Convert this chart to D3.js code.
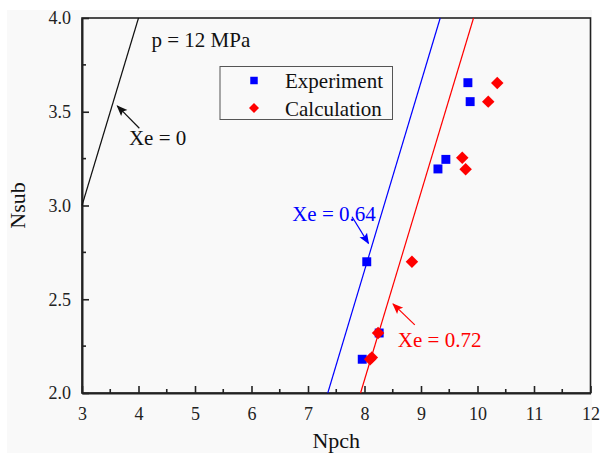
<!DOCTYPE html>
<html>
<head>
<meta charset="utf-8">
<script src="https://cdn.jsdelivr.net/npm/d3@7"></script>
<style>
body { margin: 0; background: #fff; }
svg text { font-family: "Liberation Serif", "Times New Roman", serif; }
</style>
</head>
<body>
<svg id="chart" width="600" height="455"></svg>
<script>
var width = 600;
var height = 455;

// measured points
var expX = [9.83, 9.87, 9.44, 9.30, 8.04, 8.26, 7.96];
var expY = [3.655, 3.554, 3.246, 3.195, 2.70, 2.32, 2.18];
var calcX = [10.35, 10.19, 9.73, 9.79, 8.84, 8.24, 8.10, 8.13];
var calcY = [3.653, 3.554, 3.255, 3.193, 2.70, 2.32, 2.18, 2.19];

// Xe iso-lines (start, end)
var lineXe0 = [[3, 3], [4, 4]];
var lineXe064 = [[7.35, 2], [9.34, 4]];
var lineXe072 = [[7.93, 2], [9.93, 4]];

var xTicks = [3, 4, 5, 6, 7, 8, 9, 10, 11, 12];
var yTicks = [2.0, 2.5, 3.0, 3.5, 4.0];

var svg = d3.select('#chart');

svg.append('rect')
    .attr('x', 7).attr('y', 10)
    .attr('width', 585).attr('height', 443)
    .attr('fill', '#f9f9f9');

var x = d3.scaleLinear().domain([3, 12]).range([82, 590.5]);
var y = d3.scaleLinear().domain([2, 4]).range([393, 18]);

// frame
svg.append('rect')
    .attr('x', x(3)).attr('y', y(4))
    .attr('width', x(12) - x(3)).attr('height', y(2) - y(4))
    .attr('fill', 'none')
    .attr('stroke', '#222')
    .attr('stroke-width', 1.6);

// axes with inward ticks
var xAxis = d3.axisBottom(x).tickValues(xTicks).tickFormat(d3.format('d'))
    .tickSizeInner(-7).tickSizeOuter(0).tickPadding(14);
var gx = svg.append('g').attr('transform', 'translate(0,' + y(2) + ')').call(xAxis);
var yAxis = d3.axisLeft(y).tickValues(yTicks).tickFormat(d3.format('.1f'))
    .tickSizeInner(-7).tickSizeOuter(0).tickPadding(11);
var gy = svg.append('g').attr('transform', 'translate(' + x(3) + ',0)').call(yAxis);

[gx, gy].forEach(function(g) {
    g.select('.domain').attr('stroke', '#222').attr('stroke-width', 2);
    g.selectAll('.tick line').attr('stroke', '#222').attr('stroke-width', 1.6);
    g.selectAll('.tick text').attr('fill', '#222')
        .style('font-family', '"Liberation Serif", serif').style('font-size', '18px');
});

// minor ticks
var xMinor = d3.range(3.5, 12, 1);
var yMinor = [2.25, 2.75, 3.25, 3.75];
svg.append('g').selectAll('line').data(xMinor).enter().append('line')
    .attr('x1', d => x(d)).attr('x2', d => x(d))
    .attr('y1', y(2)).attr('y2', y(2) - 4)
    .attr('stroke', '#222').attr('stroke-width', 1.6);
svg.append('g').selectAll('line').data(yMinor).enter().append('line')
    .attr('x1', x(3)).attr('x2', x(3) + 4)
    .attr('y1', d => y(d)).attr('y2', d => y(d))
    .attr('stroke', '#222').attr('stroke-width', 1.6);

// axis titles
svg.append('text')
    .attr('x', (x(3) + x(12)) / 2).attr('y', 448)
    .attr('text-anchor', 'middle')
    .style('font-size', '22px').attr('fill', '#111')
    .text('Npch');
svg.append('text')
    .attr('transform', 'translate(25,' + ((y(2) + y(4)) / 2) + ') rotate(-90)')
    .attr('text-anchor', 'middle')
    .style('font-size', '22px').attr('fill', '#111')
    .text('Nsub');

// lines
var line = d3.line().x(d => x(d[0])).y(d => y(d[1]));
svg.append('path').datum(lineXe0).attr('d', line)
    .attr('stroke', '#111').attr('stroke-width', 1.2).attr('fill', 'none');
svg.append('path').datum(lineXe064).attr('d', line)
    .attr('stroke', '#0000ff').attr('stroke-width', 1.2).attr('fill', 'none');
svg.append('path').datum(lineXe072).attr('d', line)
    .attr('stroke', '#ff0000').attr('stroke-width', 1.2).attr('fill', 'none');

// markers
var expData = expX.map((v, i) => [v, expY[i]]);
var calcData = calcX.map((v, i) => [v, calcY[i]]);
var sq = d3.symbol().type(d3.symbolSquare).size(80);
var dia = d3.symbol().type(d3.symbolSquare).size(78);

svg.append('g').selectAll('path').data(expData).enter().append('path')
    .attr('d', sq)
    .attr('transform', d => 'translate(' + x(d[0]) + ',' + y(d[1]) + ')')
    .attr('fill', '#0000ff');
svg.append('g').selectAll('path').data(calcData).enter().append('path')
    .attr('d', dia)
    .attr('transform', d => 'translate(' + x(d[0]) + ',' + y(d[1]) + ') rotate(45)')
    .attr('fill', '#ff0000');

// arrow markers
var defs = svg.append('defs');
[['k', '#111'], ['b', '#0000ff'], ['r', '#ff0000']].forEach(function(m) {
    defs.append('marker')
        .attr('id', 'arrow-' + m[0])
        .attr('viewBox', '0 0 10 10')
        .attr('refX', 9).attr('refY', 5)
        .attr('markerWidth', 11).attr('markerHeight', 11)
        .attr('markerUnits', 'userSpaceOnUse')
        .attr('orient', 'auto')
        .append('path')
        .attr('d', 'M0,1 L10,5 L0,9 L2,5 Z')
        .attr('fill', m[1]);
});

var annotations = [
    { text: 'Xe = 0', tx: 3.83, ty: 3.323, color: '#111', m: 'k', from: [4.015, 3.412], to: [3.625, 3.531] },
    { text: 'Xe = 0.64', tx: 6.72, ty: 2.915, color: '#0000ff', m: 'b', from: [7.78, 2.94], to: [8.07, 2.798] },
    { text: 'Xe = 0.72', tx: 8.59, ty: 2.245, color: '#ff0000', m: 'r', from: [8.89, 2.363], to: [8.505, 2.475] }
];

annotations.forEach(function(a) {
    svg.append('line')
        .attr('x1', x(a.from[0])).attr('y1', y(a.from[1]))
        .attr('x2', x(a.to[0])).attr('y2', y(a.to[1]))
        .attr('stroke', a.color).attr('stroke-width', 1.2)
        .attr('marker-end', 'url(#arrow-' + a.m + ')');
    svg.append('text')
        .attr('x', x(a.tx)).attr('y', y(a.ty))
        .style('font-size', '21px').attr('fill', a.color)
        .text(a.text);
});

svg.append('text')
    .attr('x', x(4.23)).attr('y', y(3.848))
    .style('font-size', '21px').attr('fill', '#111')
    .text('p = 12 MPa');

// legend
var legend = svg.append('g').attr('transform', 'translate(220,66.5)');
legend.append('rect')
    .attr('width', 172.5).attr('height', 53)
    .attr('fill', 'none').attr('stroke', '#555').attr('stroke-width', 1);
var legendItems = [['Experiment', 'sq', '#0000ff'], ['Calculation', 'dia', '#ff0000']];
legendItems.forEach(function(it, i) {
    var cy = 14 + i * 27.5;
    legend.append('path')
        .attr('d', d3.symbol().type(d3.symbolSquare).size(it[1] === 'sq' ? 56 : 50)())
        .attr('transform', 'translate(34,' + cy + ')' + (it[1] === 'dia' ? ' rotate(45)' : ''))
        .attr('fill', it[2]);
    legend.append('text')
        .attr('x', 65).attr('y', cy + 7.5)
        .style('font-size', '21px').attr('fill', '#111')
        .text(it[0]);
});
</script>
</body>
</html>
